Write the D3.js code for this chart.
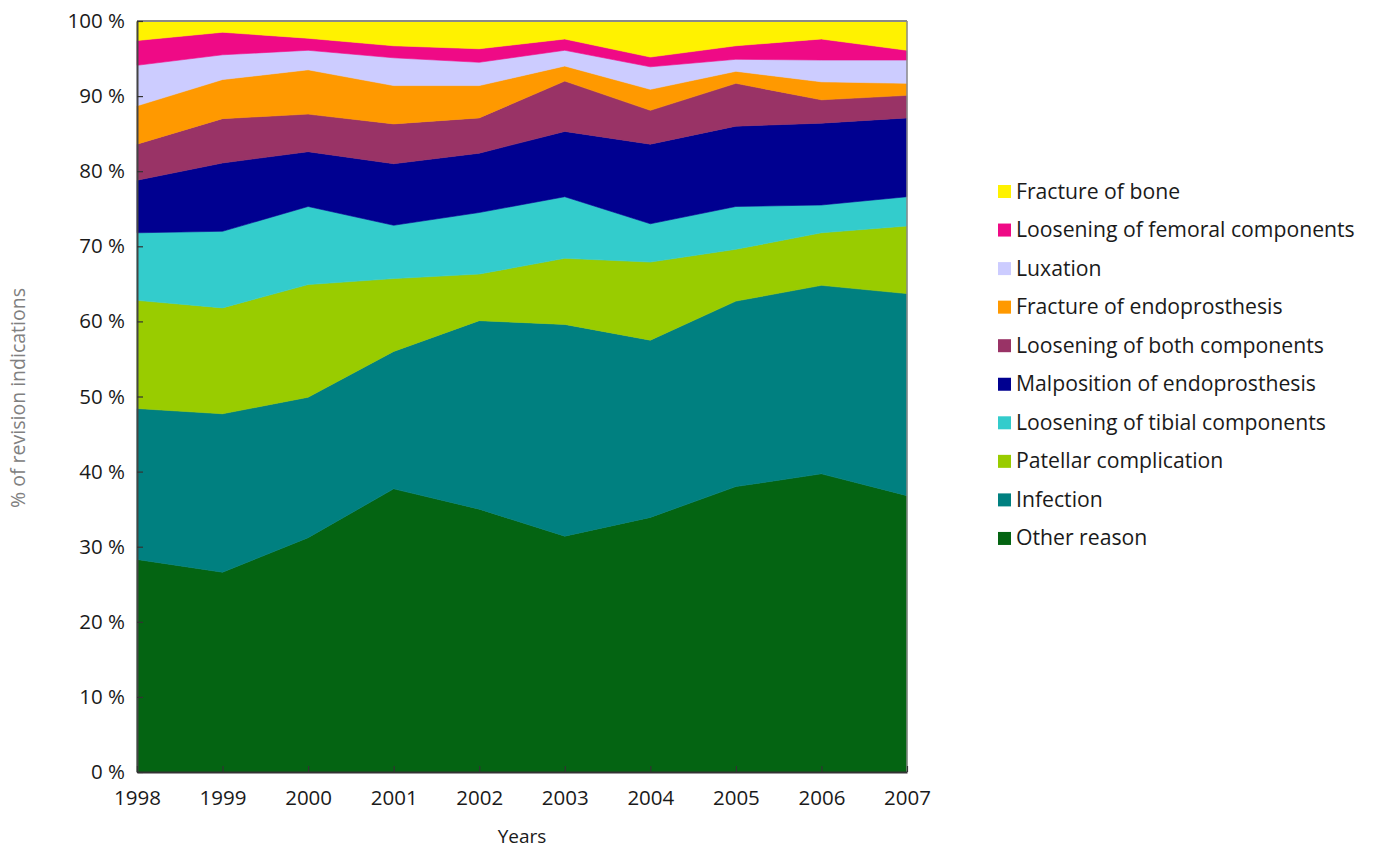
<!DOCTYPE html>
<html>
<head>
<meta charset="utf-8">
<script src="https://cdn.jsdelivr.net/npm/d3@7"></script>
<style>
  html, body { margin: 0; padding: 0; background: #fff; }
  svg { display: block; font-family: "Open Sans", "Noto Sans", sans-serif; }
</style>
</head>
<body>
<svg id="chart" width="1373" height="850"></svg>
<script>
const years = [1998, 1999, 2000, 2001, 2002, 2003, 2004, 2005, 2006, 2007];

// Series listed bottom to top
const seriesNames = [
  "Other reason",
  "Infection",
  "Patellar complication",
  "Loosening of tibial components",
  "Malposition of endoprosthesis",
  "Loosening of both components",
  "Fracture of endoprosthesis",
  "Luxation",
  "Loosening of femoral components",
  "Fracture of bone"
];

const otherReason   = [28.3, 26.6, 31.2, 37.7, 35.0, 31.4, 33.9, 38.0, 39.7, 36.8];
const infection     = [20.1, 21.1, 18.7, 18.3, 25.1, 28.2, 23.6, 24.7, 25.1, 26.9];
const patellar      = [14.4, 14.1, 15.0,  9.7,  6.2,  8.8, 10.4,  6.9,  7.0,  9.0];
const tibial        = [ 9.0, 10.2, 10.4,  7.1,  8.2,  8.2,  5.1,  5.7,  3.7,  3.9];
const malposition   = [ 7.0,  9.1,  7.3,  8.2,  7.9,  8.7, 10.6, 10.7, 10.9, 10.5];
const bothComp      = [ 4.8,  5.9,  5.0,  5.3,  4.7,  6.7,  4.5,  5.7,  3.1,  3.0];
const fractureEndo  = [ 5.1,  5.2,  5.9,  5.1,  4.3,  2.0,  2.8,  1.6,  2.4,  1.6];
const luxation      = [ 5.4,  3.3,  2.6,  3.7,  3.1,  2.1,  3.0,  1.6,  2.9,  3.1];
const femoral       = [ 3.3,  3.0,  1.6,  1.6,  1.8,  1.5,  1.3,  1.8,  2.8,  1.3];
const fractureBone  = [ 2.6,  1.5,  2.3,  3.3,  3.7,  2.4,  4.8,  3.3,  2.4,  3.9];

const seriesValues = [otherReason, infection, patellar, tibial, malposition,
                      bothComp, fractureEndo, luxation, femoral, fractureBone];

const colors = ["#046412", "#008080", "#99CC00", "#33CCCC", "#000090",
                "#993366", "#FF9900", "#CCCCFF", "#EF0A86", "#FFF200"];

const yTicks = [0, 10, 20, 30, 40, 50, 60, 70, 80, 90, 100];

// Build rows for stacking
const rows = years.map((y, i) => {
  const r = { year: y };
  seriesNames.forEach((n, k) => { r[n] = seriesValues[k][i]; });
  return r;
});

const svg = d3.select("#chart");
const margin = { left: 137, right: 466, top: 21, bottom: 78 };
const W = 1373, H = 850;

const x = d3.scaleLinear().domain([1998, 2007]).range([margin.left, W - margin.right]);
const y = d3.scaleLinear().domain([0, 100]).range([H - margin.bottom, margin.top]);

const stack = d3.stack().keys(seriesNames);
const stacked = stack(rows);

const area = d3.area()
  .x(d => x(d.data.year))
  .y0(d => y(d[0]))
  .y1(d => y(d[1]));

svg.append("g").selectAll("path")
  .data(stacked)
  .join("path")
  .attr("d", area)
  .attr("fill", (d, i) => colors[i])
  .attr("stroke", (d, i) => colors[i])
  .attr("stroke-width", 0.6);

// frame: top and right gray
svg.append("line")
  .attr("x1", x(1998)).attr("x2", x(2007))
  .attr("y1", y(100)).attr("y2", y(100))
  .attr("stroke", "#8a8a8a").attr("stroke-width", 2);
svg.append("line")
  .attr("x1", x(2007)).attr("x2", x(2007))
  .attr("y1", y(100)).attr("y2", y(0))
  .attr("stroke", "#8a8a8a").attr("stroke-width", 1.5);

// Y axis with inward ticks
const yAxis = d3.axisLeft(y)
  .tickValues(yTicks)
  .tickFormat(d => d + " %")
  .tickSizeInner(-6)
  .tickSizeOuter(0)
  .tickPadding(12);
const gy = svg.append("g")
  .attr("transform", `translate(${x(1998)},0)`)
  .call(yAxis);
gy.select(".domain").attr("stroke", "#444").attr("stroke-width", 2);
gy.selectAll(".tick line").attr("stroke", "#333").attr("stroke-width", 1.2);
gy.selectAll(".tick text")
  .attr("font-size", 20.5)
  .attr("fill", "#1a1a1a")
  .attr("font-family", "'Open Sans', sans-serif");

// X axis with inward ticks
const xAxis = d3.axisBottom(x)
  .tickValues(years)
  .tickFormat(d3.format("d"))
  .tickSizeInner(-6)
  .tickSizeOuter(0)
  .tickPadding(18);
const gx = svg.append("g")
  .attr("transform", `translate(0,${y(0)})`)
  .call(xAxis);
gx.select(".domain").attr("stroke", "#333").attr("stroke-width", 2);
gx.selectAll(".tick line").attr("stroke", "#333").attr("stroke-width", 1.2);
gx.selectAll(".tick text")
  .attr("font-size", 20.5)
  .attr("fill", "#1a1a1a")
  .attr("font-family", "'Open Sans', sans-serif");

// Axis titles
svg.append("text")
  .attr("x", (x(1998) + x(2007)) / 2)
  .attr("y", 843)
  .attr("text-anchor", "middle")
  .attr("font-size", 19)
  .attr("fill", "#1a1a1a")
  .text("Years");

svg.append("text")
  .attr("transform", `translate(25,398) rotate(-90)`)
  .attr("text-anchor", "middle")
  .attr("font-size", 19.5)
  .attr("fill", "#808080")
  .text("% of revision indications");

// Legend (top to bottom: reverse of stack order)
const legendOrder = seriesNames.map((n, i) => ({ name: n, color: colors[i] })).reverse();
const lg = svg.append("g").attr("transform", "translate(998,185)");
const item = lg.selectAll("g")
  .data(legendOrder)
  .join("g")
  .attr("transform", (d, i) => `translate(0,${i * 38.55})`);
item.append("rect")
  .attr("width", 13).attr("height", 13)
  .attr("fill", d => d.color);
item.append("text")
  .attr("x", 18)
  .attr("y", 13.5)
  .attr("font-size", 21.2)
  .attr("fill", "#1a1a1a")
  .text(d => d.name);
</script>
</body>
</html>
